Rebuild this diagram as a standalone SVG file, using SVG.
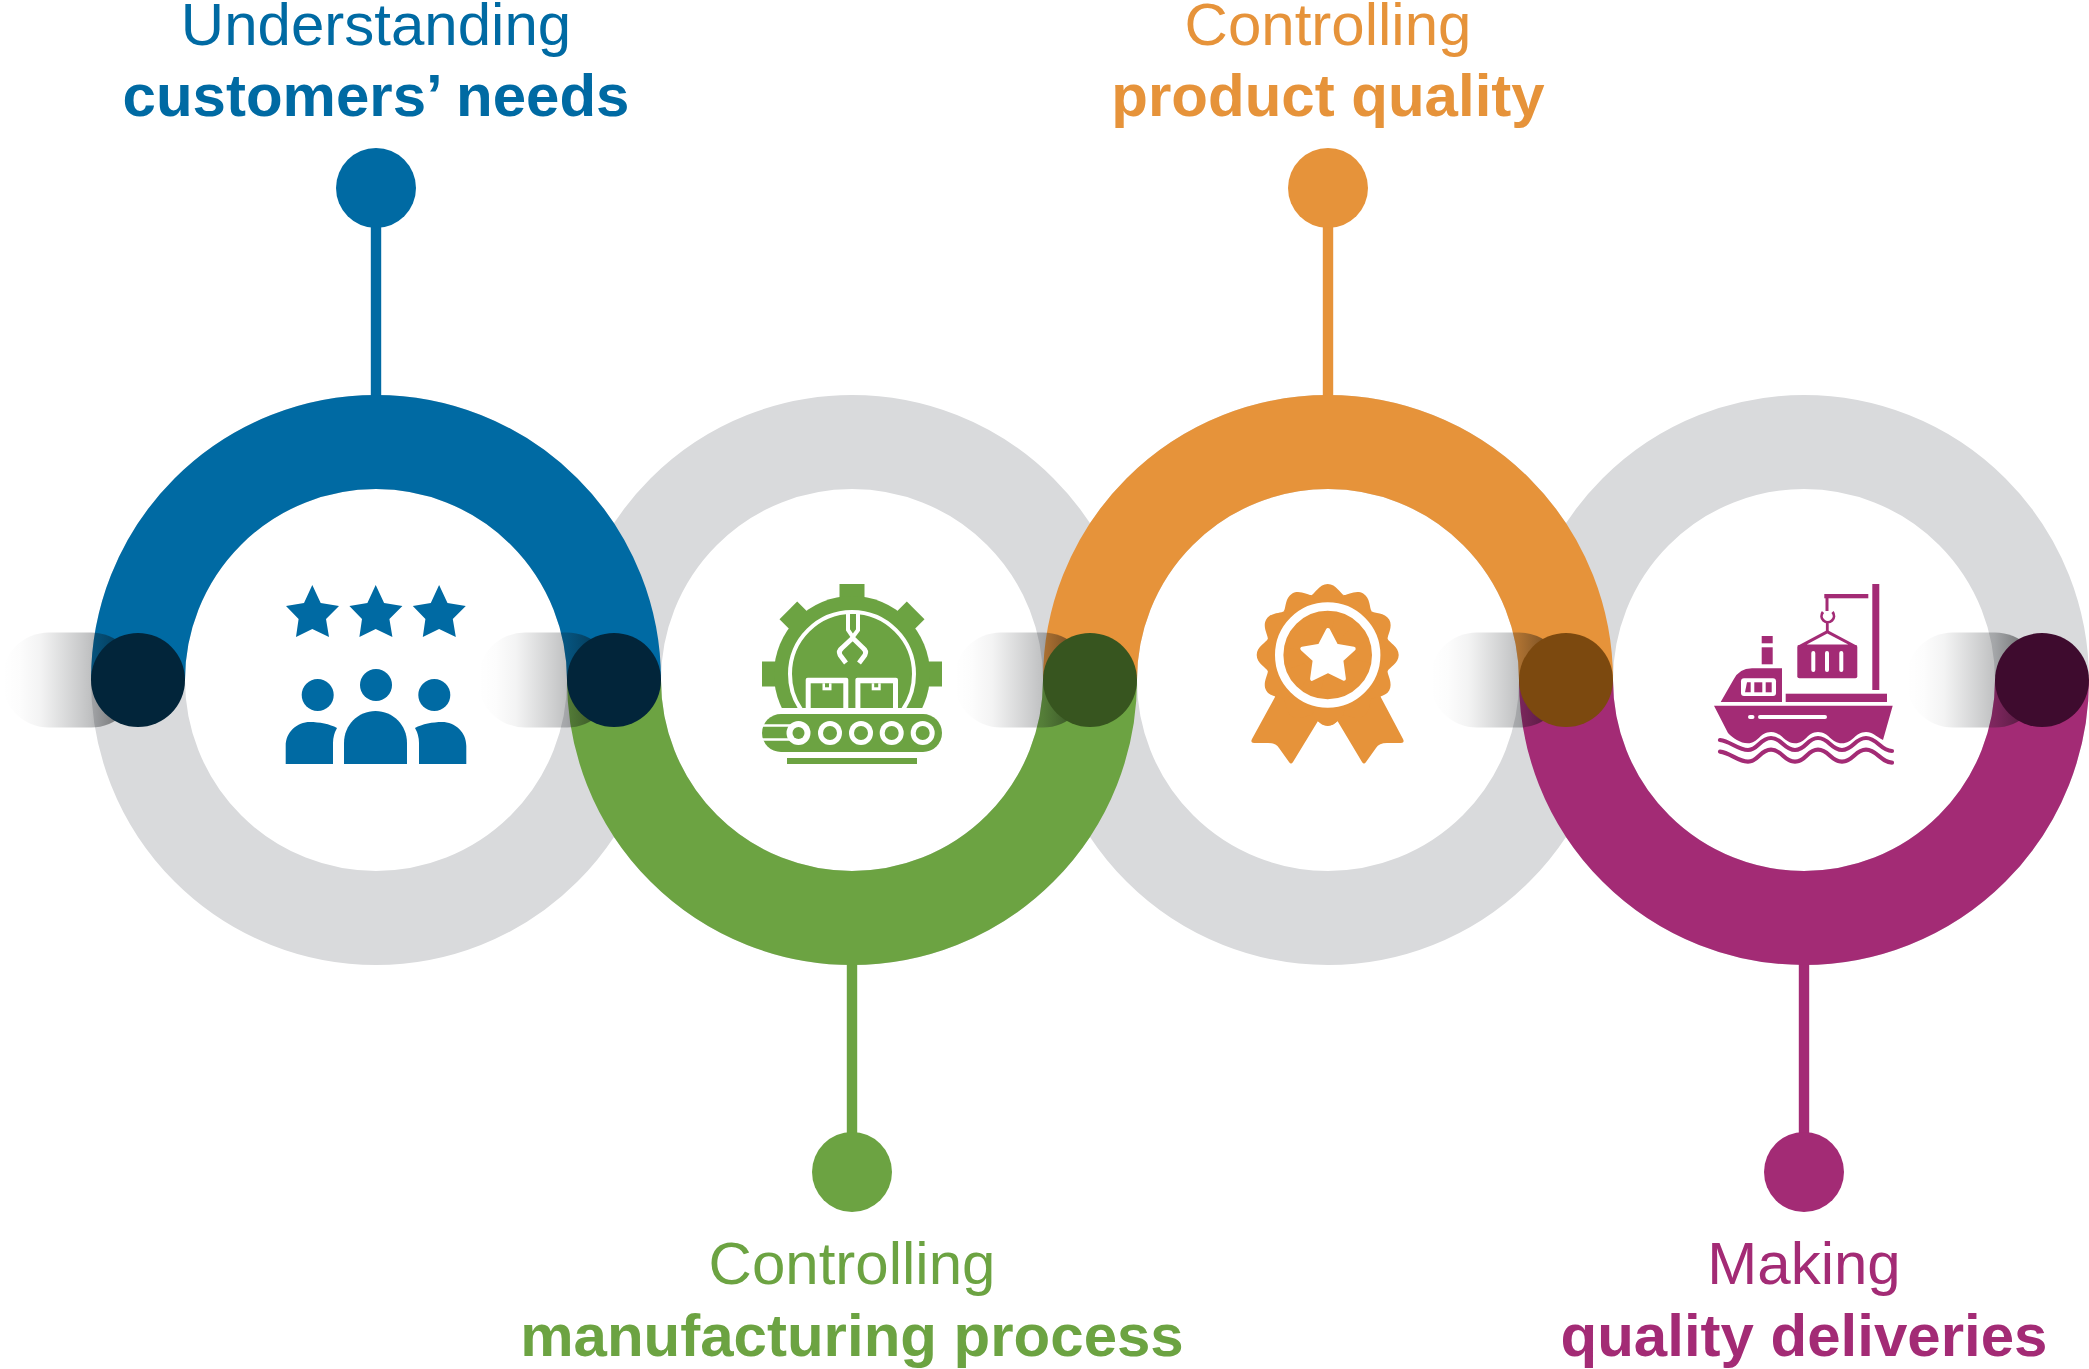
<svg xmlns="http://www.w3.org/2000/svg" xmlns:xlink="http://www.w3.org/1999/xlink" width="2089" height="1369" viewBox="0 0 2089 1369">
<style>
text{font-family:"Liberation Sans",Arial,sans-serif;text-anchor:middle;font-size:60px}
.b{font-weight:700}
.grey{fill:none;stroke:#d9dadc;stroke-width:94}
.arc{fill:none;stroke-width:94}
.blue{fill:#006aa3}.green{fill:#6ca342}.orange{fill:#e6933a}.purple{fill:#a32b75}
.w{fill:#fff}.ws{fill:none;stroke:#fff}
.ps{fill:none;stroke:#a32b75}
</style>
<defs>
<linearGradient id="sh" x1="0" x2="1" y1="0" y2="0">
<stop offset="0" stop-color="#14181c" stop-opacity="0"/>
<stop offset=".13" stop-color="#14181c" stop-opacity=".012"/>
<stop offset=".28" stop-color="#14181c" stop-opacity=".05"/>
<stop offset=".35" stop-color="#14181c" stop-opacity=".09"/>
<stop offset=".57" stop-color="#14181c" stop-opacity=".22"/>
<stop offset=".65" stop-color="#14181c" stop-opacity=".27"/>
<stop offset="1" stop-color="#000" stop-opacity=".62"/>
</linearGradient>
<rect id="shadow" x="-136" y="-47.500" width="136" height="95" rx="47" fill="url(#sh)"/>
<path id="lobe" d="M0,0L-17.100,-47L-16,-60C-13,-61-8.500,-71 0,-71C8.500,-71 13,-61 16,-60L17.100,-47Z"/>
<polygon id="star" points="312.300,585 320.700,603 339,606 326,619 329,637 312.300,629 296,637 298.600,619 286,606 304,603"/>
<rect id="tooth" x="839.500" y="584" width="25" height="30"/>
<clipPath id="gearclip"><rect x="750" y="570" width="204" height="138"/></clipPath>
</defs>
<g id="rings">
<circle class="grey" cx="376" cy="680" r="238"/>
<circle class="grey" cx="852" cy="680" r="238"/>
<circle class="grey" cx="1328" cy="680" r="238"/>
<circle class="grey" cx="1804" cy="680" r="238"/>
</g>
<g id="connectors">
<rect class="blue" x="370.800" y="225" width="10.400" height="172"/>
<rect class="green" x="846.800" y="963" width="10.400" height="172"/>
<rect class="orange" x="1322.800" y="225" width="10.400" height="172"/>
<rect class="purple" x="1798.800" y="963" width="10.400" height="172"/>
</g>
<g id="step1">
<path class="arc" stroke="#006aa3" d="M138,680A238,238 0 0 1 614,680"/>
<circle class="blue" cx="376" cy="188" r="40"/>
<text x="376" y="45" fill="#006aa3">Understanding</text>
<text x="376" y="116" class="b" fill="#006aa3">customers’ needs</text>
<g class="blue">
<use xlink:href="#star" href="#star"/>
<use xlink:href="#star" href="#star" x="63.400"/>
<use xlink:href="#star" href="#star" x="126.800"/>
<circle cx="317.700" cy="695" r="16"/><circle cx="376" cy="685" r="16"/><circle cx="434.300" cy="695" r="16"/>
<path d="M344,764V743C344,725 358,711 375.500,711C393,711 407,725 407,743V764Z"/>
<path d="M285.700,764V746C285.700,732 297,722 310,722C319,722 330,724 337,728Q333,735 333,743V764Z"/>
<path d="M466.300,764V746C466.300,732 455,722 442,722C433,722 422,724 415,728Q419,735 419,743V764Z"/>
</g>
</g>
<g id="step2">
<path class="arc" stroke="#6ca342" d="M614,680A238,238 0 0 0 1090,680"/>
<circle class="green" cx="852" cy="1172" r="40"/>
<text x="852" y="1284" fill="#6ca342">Controlling</text>
<text x="852" y="1356" class="b" fill="#6ca342">manufacturing process</text>
<g clip-path="url(#gearclip)">
<g class="green">
<use xlink:href="#tooth" href="#tooth"/>
<use xlink:href="#tooth" href="#tooth" transform="rotate(45 852 674)"/>
<use xlink:href="#tooth" href="#tooth" transform="rotate(-45 852 674)"/>
<use xlink:href="#tooth" href="#tooth" transform="rotate(90 852 674)"/>
<use xlink:href="#tooth" href="#tooth" transform="rotate(-90 852 674)"/>
<circle cx="852" cy="674" r="78"/>
</g>
<circle class="ws" cx="852" cy="674" r="62" stroke-width="4"/>
<rect class="w" x="805.700" y="677.700" width="42.600" height="40" rx="2"/>
<rect class="w" x="855.400" y="677.700" width="42.600" height="40" rx="2"/>
<rect class="green" x="810.700" y="683.300" width="32.600" height="30"/>
<rect class="green" x="860.400" y="683.300" width="32.600" height="30"/>
</g>
<rect class="w" x="822.500" y="683.300" width="9" height="7"/>
<rect class="green" x="825" y="683.300" width="4" height="4"/>
<rect class="w" x="871.700" y="683.300" width="9" height="7"/>
<rect class="green" x="874.200" y="683.300" width="4" height="4"/>
<path d="M848,614V630L852.800,637L858,630V614" fill="#6ca342" stroke="#fff" stroke-width="4"/>
<path class="ws" stroke-width="4.800" stroke-linejoin="round" d="M846,663L840,655Q838,651 842,648L852.700,638L863,648Q867,651 865,655L859,663"/>
<rect class="green" x="762" y="714" width="180" height="38" rx="19"/>
<rect class="green" x="787" y="758" width="130" height="6"/>
<path class="ws" stroke-width="2.700" d="M761,725.500H800M761,739.500H800"/>
<g class="w">
<circle cx="798.500" cy="733" r="12"/><circle cx="830" cy="733" r="12"/><circle cx="861" cy="733" r="12"/><circle cx="891.700" cy="733" r="12"/><circle cx="922.700" cy="733" r="12"/>
</g>
<g class="green">
<circle cx="798.500" cy="733" r="6"/><circle cx="830" cy="733" r="7"/><circle cx="861" cy="733" r="7"/><circle cx="891.700" cy="733" r="7"/><circle cx="922.700" cy="733" r="7"/>
</g>
</g>
<g id="step3">
<path class="arc" stroke="#e6933a" d="M1090,680A238,238 0 0 1 1566,680"/>
<circle class="orange" cx="1328" cy="188" r="40"/>
<text x="1328" y="45" fill="#e6933a">Controlling</text>
<text x="1328" y="116" class="b" fill="#e6933a">product quality</text>
<path class="orange" d="M1276,690L1275,697L1252,739Q1250,743 1254,743L1268,743Q1276,743 1279,748L1289,762Q1291,765 1293,762L1318,721Q1328,730 1337.500,721L1362,762Q1364,765 1366,762L1376,748Q1379,743 1387,743L1401,743Q1405,743 1403,739L1380.700,697L1380,690Z"/>
<g class="orange">
<use xlink:href="#lobe" href="#lobe" transform="translate(1327.700 655)"/>
<use xlink:href="#lobe" href="#lobe" transform="translate(1327.700 655) rotate(30)"/>
<use xlink:href="#lobe" href="#lobe" transform="translate(1327.700 655) rotate(60)"/>
<use xlink:href="#lobe" href="#lobe" transform="translate(1327.700 655) rotate(90)"/>
<use xlink:href="#lobe" href="#lobe" transform="translate(1327.700 655) rotate(120)"/>
<use xlink:href="#lobe" href="#lobe" transform="translate(1327.700 655) rotate(150)"/>
<use xlink:href="#lobe" href="#lobe" transform="translate(1327.700 655) rotate(180)"/>
<use xlink:href="#lobe" href="#lobe" transform="translate(1327.700 655) rotate(210)"/>
<use xlink:href="#lobe" href="#lobe" transform="translate(1327.700 655) rotate(240)"/>
<use xlink:href="#lobe" href="#lobe" transform="translate(1327.700 655) rotate(270)"/>
<use xlink:href="#lobe" href="#lobe" transform="translate(1327.700 655) rotate(300)"/>
<use xlink:href="#lobe" href="#lobe" transform="translate(1327.700 655) rotate(330)"/>
</g>
<circle class="ws" cx="1327.700" cy="655" r="48.500" stroke-width="8.400"/>
<polygon points="1328,630 1336.200,645.700 1353.700,648.700 1341.300,660 1343.900,678.800 1328,671 1312.100,678.800 1314.700,660 1302.300,648.700 1319.800,645.700" fill="#fff" stroke="#fff" stroke-width="4" stroke-linejoin="round"/>
</g>
<g id="step4">
<path class="arc" stroke="#a32b75" d="M1566,680A238,238 0 0 0 2042,680"/>
<circle class="purple" cx="1804" cy="1172" r="40"/>
<text x="1804" y="1284" fill="#a32b75">Making</text>
<text x="1804" y="1356" class="b" fill="#a32b75">quality deliveries</text>
<g class="purple">
<rect x="1872.300" y="584" width="7" height="106"/>
<rect x="1824.300" y="594" width="44" height="4.300"/>
<rect x="1761.700" y="636" width="11" height="7.300"/>
<rect x="1761.700" y="647.300" width="11" height="17"/>
<rect x="1785.700" y="693.700" width="101.300" height="8.300"/>
<polygon points="1797.300,646 1827.300,630 1857.300,646"/>
<rect x="1797.300" y="645" width="60" height="33.300" rx="2"/>
<path d="M1720.700,702L1733.300,680Q1739,668.300 1752,668.300H1782V702Z"/>
<path d="M1714,705.700H1892.700L1883,740C1875,736 1873,732 1866,732C1855,732 1853,743.300 1842,743.300C1831,743.300 1829,732 1818,732C1807,732 1806,743.300 1795,743.300C1784,743.300 1782,732 1771,732C1760,732 1758,743.300 1748,743.300C1740,743.300 1733,738 1728,733Z"/>
</g>
<path class="ps" stroke-width="3" d="M1827,598V611"/>
<path class="ps" stroke-width="2.800" d="M1823,612A6.200,6.200 0 1 0 1832.500,612M1827.300,622V631"/>
<polygon class="w" points="1806.700,644.500 1827.300,633.500 1848.300,644.500"/>
<g class="ws" stroke-width="4" stroke-linecap="round">
<path d="M1813.300,653V670M1827,653V670M1841.300,653V670"/>
</g>
<rect class="w" x="1741" y="678.300" width="35" height="17.700" rx="3"/>
<g class="purple">
<path d="M1747,682.300H1750.700V692.300H1745Z"/>
<rect x="1754.300" y="682.300" width="8" height="10"/>
<rect x="1765.700" y="682.300" width="6" height="10"/>
</g>
<path class="ws" stroke-width="4" stroke-linecap="round" d="M1750,717H1752.500M1760,717H1825"/>
<path id="wave1" class="ps" stroke-width="4.200" stroke-linecap="round" d="M1720,740C1730,741 1738,750 1748,750C1758,750 1760,738 1771,738C1782,738 1784,750 1795,750C1806,750 1807,738 1818,738C1829,738 1831,750 1842,750C1853,750 1855,738 1866,738C1877,738 1881,751 1892,751"/>
<path id="wave2" class="ps" stroke-width="4.200" stroke-linecap="round" d="M1720,751.700C1730,752.700 1738,761.700 1748,761.700C1758,761.700 1760,749.700 1771,749.700C1782,749.700 1784,761.700 1795,761.700C1806,761.700 1807,749.700 1818,749.700C1829,749.700 1831,761.700 1842,761.700C1853,761.700 1855,749.700 1866,749.700C1877,749.700 1881,762.700 1892,762.700"/>
</g>
<g id="dots">
<use xlink:href="#shadow" href="#shadow" x="138" y="680"/>
<use xlink:href="#shadow" href="#shadow" x="614" y="680"/>
<use xlink:href="#shadow" href="#shadow" x="1090" y="680"/>
<use xlink:href="#shadow" href="#shadow" x="1566" y="680"/>
<use xlink:href="#shadow" href="#shadow" x="2042" y="680"/>
<circle cx="138" cy="680" r="47" fill="#02253a"/>
<circle cx="614" cy="680" r="47" fill="#02253a"/>
<circle cx="1090" cy="680" r="47" fill="#37551f"/>
<circle cx="1566" cy="680" r="47" fill="#7c490f"/>
<circle cx="2042" cy="680" r="47" fill="#3e0b2e"/>
</g>
</svg>
